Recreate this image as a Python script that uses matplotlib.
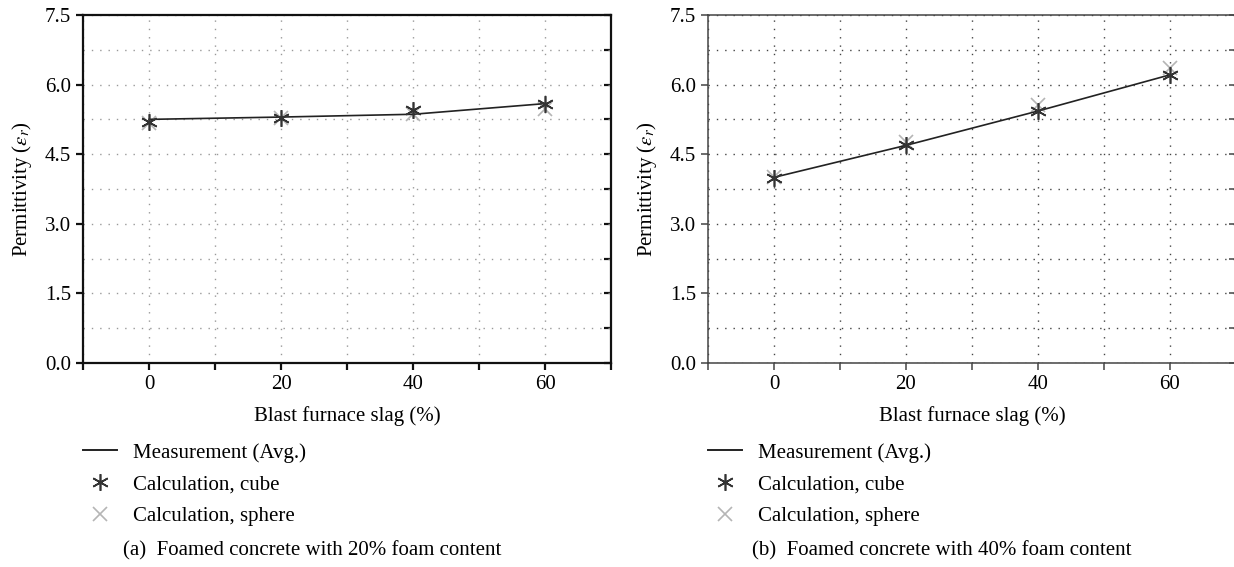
import matplotlib
matplotlib.use("Agg")
import matplotlib.pyplot as plt
from matplotlib.ticker import MultipleLocator, NullFormatter
from matplotlib.lines import Line2D

plt.rcParams['font.family'] = ['Liberation Serif', 'DejaVu Serif']
plt.rcParams['mathtext.fontset'] = 'stix'

# Data
slag = [0, 20, 40, 60]
meas_a = [5.25, 5.30, 5.36, 5.59]
cube_a = [5.20, 5.29, 5.45, 5.58]
sphere_a = [5.18, 5.27, 5.37, 5.48]
meas_b = [4.00, 4.69, 5.43, 6.21]
cube_b = [3.99, 4.69, 5.43, 6.20]
sphere_b = [4.00, 4.76, 5.55, 6.36]

captions = ["(a)  Foamed concrete with 20% foam content",
            "(b)  Foamed concrete with 40% foam content"]
xticks = [0, 20, 40, 60]
yticks = [0.0, 1.5, 3.0, 4.5, 6.0, 7.5]

fs = 15
fig = plt.figure(figsize=(12.34, 5.67), dpi=100)
ax1 = fig.add_axes([0.0673, 0.3598, 0.4279, 0.6138])
ax2 = fig.add_axes([0.5737, 0.3598, 0.4279, 0.6138])

panels = [
    (ax1, meas_a, cube_a, sphere_a, "#111111", "#999999", 1.6),
    (ax2, meas_b, cube_b, sphere_b, "#444444", "#444444", 1.1),
]

for i, (ax, m, c, s, spine_col, grid_col, lw) in enumerate(panels):
    ax.plot(slag, m, color="#222222", lw=1.2, zorder=3)
    ax.plot(slag, c, ls="none", marker=(6, 2, 0), ms=12, mew=1.2,
            color="#333333", zorder=4)
    ax.plot(slag, s, ls="none", marker="x", ms=10, mew=1.2,
            color="#b5b5b5", zorder=2)

    ax.set_xlim(-10, 70)
    ax.set_ylim(0, 7.5)
    ax.set_xticks(xticks)
    ax.xaxis.set_minor_locator(MultipleLocator(10))
    ax.set_yticks(yticks)
    ax.set_yticklabels(["%.1f" % v for v in yticks])
    ax.yaxis.set_minor_locator(MultipleLocator(0.75))
    ax.yaxis.set_minor_formatter(NullFormatter())
    ax.tick_params(axis="both", which="major", labelsize=fs, length=5,
                   width=lw, color=spine_col, direction="out")
    ax.tick_params(axis="x", which="minor", length=5, width=lw,
                   color=spine_col, direction="out")
    ax.tick_params(axis="y", which="minor", length=0)
    ax.grid(True, which="both", color=grid_col, ls=(0, (1, 5)), lw=1.0)
    for sp in ax.spines.values():
        sp.set_color(spine_col)
        sp.set_linewidth(lw)

    # inward ticks on the right spine
    sec = ax.secondary_yaxis("right")
    sec.yaxis.set_major_locator(MultipleLocator(0.75))
    sec.yaxis.set_major_formatter(NullFormatter())
    sec.tick_params(direction="in", length=5, width=lw, color=spine_col)
    sec.spines["right"].set_visible(False)

    ax.set_xlabel("Blast furnace slag (%)", fontsize=fs, labelpad=9)
    ax.set_ylabel(r"Permittivity ($\varepsilon_r$)", fontsize=fs, labelpad=8)

    handles = [
        Line2D([], [], color="#222222", lw=1.4),
        Line2D([], [], ls="none", marker=(6, 2, 0), ms=12, mew=1.2, color="#333333"),
        Line2D([], [], ls="none", marker="x", ms=10, mew=1.2, color="#b5b5b5"),
    ]
    ax.legend(handles, ["Measurement (Avg.)", "Calculation, cube", "Calculation, sphere"],
              loc="upper left", bbox_to_anchor=(0.0, -0.23), frameon=False,
              fontsize=fs, handlelength=1.65, handletextpad=0.75, labelspacing=0.58,
              borderaxespad=0, borderpad=0)

fig.text(0.253, 0.029, captions[0], fontsize=fs, ha="center", va="center")
fig.text(0.763, 0.029, captions[1], fontsize=fs, ha="center", va="center")

fig.savefig("out.png", dpi=100)
